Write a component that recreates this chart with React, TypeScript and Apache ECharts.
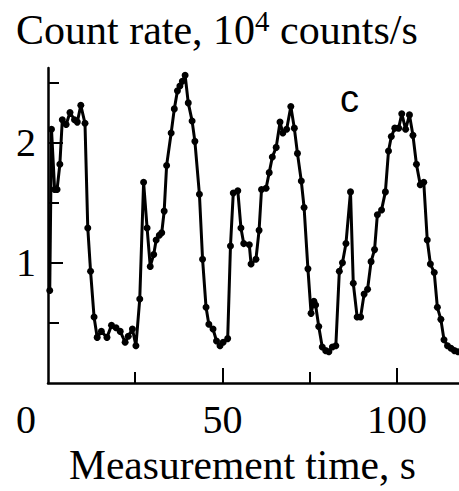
import React, { useEffect, useRef } from "react";
import * as echarts from "echarts";

const times = [
  0.5, 1.0, 1.9, 2.6, 3.4, 4.1, 5.2, 6.3, 7.6, 8.4, 9.4, 10.6, 11.4, 12.2, 13.2, 14.1, 15.3, 16.9, 18.2, 19.5,
  20.7, 22.1, 23.0, 24.2, 25.2, 26.3, 27.4, 28.4, 29.3, 30.3, 31.0, 31.9, 32.6, 33.3, 34.0, 35.3, 36.2, 37.1, 37.8, 38.5,
  39.3, 40.2, 41.3, 42.1, 43.4, 44.3, 45.3, 46.1, 47.3, 48.3, 49.3, 50.2, 51.5, 52.3, 53.1, 54.4, 55.3, 56.1, 57.7, 58.2,
  59.6, 60.5, 61.2, 62.5, 63.4, 64.3, 65.4, 66.5, 67.3, 68.4, 69.6, 70.6, 71.5, 72.6, 73.4, 74.5, 75.4, 76.2, 76.7, 77.6,
  78.6, 79.6, 80.5, 81.5, 82.5, 83.5, 84.4, 85.4, 86.7, 87.5, 88.6, 89.6, 90.6, 91.6, 92.6, 93.6, 94.4, 95.6, 96.7, 97.6,
  98.4, 99.4, 100.5, 101.4, 102.5, 103.6, 104.6, 105.6, 106.7, 107.7, 108.7, 109.6, 110.7, 111.6, 112.6, 113.5, 114.5, 115.5, 116.5, 117.5,
];

const countRate = [
  0.77, 2.11, 1.61, 1.61, 1.82, 2.19, 2.15, 2.25, 2.19, 2.17, 2.31, 2.16, 1.29, 0.93, 0.55, 0.38, 0.43, 0.38, 0.48, 0.46,
  0.43, 0.34, 0.39, 0.45, 0.31, 0.70, 1.67, 1.29, 0.97, 1.07, 1.19, 1.23, 1.25, 1.43, 1.81, 2.08, 2.28, 2.43, 2.47, 2.51,
  2.56, 2.33, 2.18, 2.01, 1.57, 1.03, 0.63, 0.49, 0.45, 0.35, 0.31, 0.34, 0.37, 1.14, 1.58, 1.60, 1.29, 1.16, 1.15, 0.99,
  1.03, 1.27, 1.61, 1.62, 1.75, 1.88, 1.96, 2.17, 2.08, 2.11, 2.30, 2.12, 1.91, 1.68, 1.46, 0.95, 0.58, 0.68, 0.65, 0.47,
  0.30, 0.27, 0.26, 0.30, 0.31, 0.93, 1.00, 1.16, 1.59, 0.83, 0.55, 0.55, 0.74, 0.78, 1.01, 1.11, 1.40, 1.44, 1.59, 1.93,
  2.05, 2.12, 2.12, 2.24, 2.11, 2.23, 2.06, 1.82, 1.65, 1.67, 1.19, 0.99, 0.92, 0.63, 0.53, 0.36, 0.31, 0.29, 0.27, 0.26,
];

const xLabelValues = [0, 50, 100];
const xMajorTicks = [50, 100];
const xMinorTicks = [25, 75];
const yLabelValues = [1, 2];
const yMajorTicks = [1, 2];
const yMinorTicks = [0.5, 1.5, 2.5];

const SERIF = "'Liberation Serif', 'Times New Roman', serif";

export default function App() {
  const ref = useRef<HTMLDivElement>(null);

  useEffect(() => {
    if (!ref.current) return;
    const chart = echarts.init(ref.current, undefined, { renderer: "svg" });
    const xMin = 0;
    const xMax = 117.8;
    const yMin = 0;
    const yMax = 2.62;
    const data = times.map((t, i) => [t, countRate[i]]);

    chart.setOption({
      animation: false,
      backgroundColor: "#ffffff",
      title: {
        left: 16,
        top: 6,
        padding: 0,
        text: "{a|Count rate, 10}{s|4}{a| counts/s}",
        textStyle: {
          fontWeight: "normal",
          rich: {
            a: { fontFamily: SERIF, fontSize: 42, fontWeight: "normal", color: "#000", verticalAlign: "bottom" },
            s: { fontFamily: SERIF, fontSize: 29, fontWeight: "normal", color: "#000", verticalAlign: "top", padding: [0, 0, 16, 0] },
          },
        },
      },
      graphic: [
        {
          type: "text",
          left: 340,
          top: 80,
          style: {
            text: "c",
            font: "38px 'Liberation Sans', Arial, sans-serif",
            fill: "#000",
          },
        },
      ],
      grid: { left: 48, right: 0, top: 68, bottom: 98, containLabel: false },
      xAxis: [
        {
          type: "value",
          min: xMin,
          max: xMax,
          position: "bottom",
          axisLine: { show: true, lineStyle: { color: "#000", width: 2.5 } },
          axisTick: { show: true, inside: true, length: 15, customValues: xMajorTicks, lineStyle: { color: "#000", width: 2 } },
          axisLabel: {
            show: true,
            customValues: xLabelValues,
            margin: 16,
            formatter: (v: number) => (v === 0 ? "{z|0}" : "{n|" + v + "}"),
            rich: {
              z: { fontFamily: SERIF, fontSize: 40, color: "#000", padding: [0, 44, 0, 0] },
              n: { fontFamily: SERIF, fontSize: 40, color: "#000" },
            },
          },
          splitLine: { show: false },
          name: "Measurement time, s",
          nameLocation: "middle",
          nameGap: 46,
          nameTextStyle: { fontFamily: SERIF, fontSize: 41.5, color: "#000", padding: [0, 22, 0, 0] },
        },
        {
          type: "value",
          min: xMin,
          max: xMax,
          position: "bottom",
          axisLine: { show: false },
          axisTick: { show: true, inside: true, length: 11, customValues: xMinorTicks, lineStyle: { color: "#000", width: 2 } },
          axisLabel: { show: false },
          splitLine: { show: false },
        },
      ],
      yAxis: [
        {
          type: "value",
          min: yMin,
          max: yMax,
          position: "left",
          axisLine: { show: true, lineStyle: { color: "#000", width: 2.5 } },
          axisTick: { show: true, inside: true, length: 15, customValues: yMajorTicks, lineStyle: { color: "#000", width: 2 } },
          axisLabel: {
            show: true,
            customValues: yLabelValues,
            margin: 12,
            fontFamily: SERIF,
            fontSize: 40,
            color: "#000",
          },
          splitLine: { show: false },
        },
        {
          type: "value",
          min: yMin,
          max: yMax,
          position: "left",
          axisLine: { show: false },
          axisTick: { show: true, inside: true, length: 11, customValues: yMinorTicks, lineStyle: { color: "#000", width: 2 } },
          axisLabel: { show: false },
          splitLine: { show: false },
        },
      ],
      series: [
        {
          type: "line",
          xAxisIndex: 0,
          yAxisIndex: 0,
          data,
          symbol: "circle",
          symbolSize: 7,
          showSymbol: true,
          clip: false,
          itemStyle: { color: "#000" },
          lineStyle: { color: "#000", width: 3 },
        },
      ],
    });

    return () => chart.dispose();
  }, []);

  return (
    <div
      ref={ref}
      style={{ position: "fixed", left: 0, top: 0, width: 459, height: 491, background: "#fff" }}
    />
  );
}
